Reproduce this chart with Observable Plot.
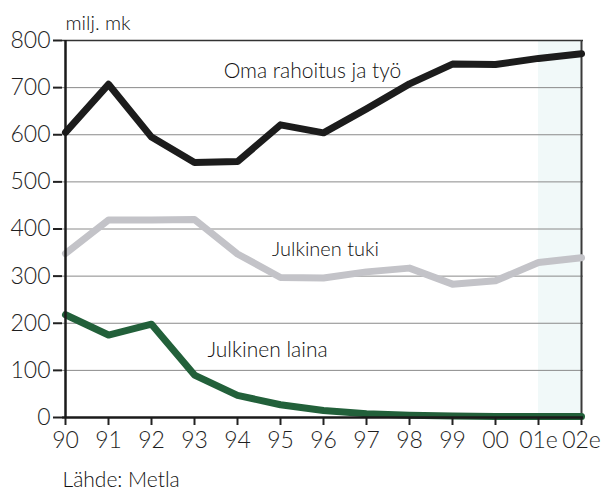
<!DOCTYPE html>
<html>
<head>
<meta charset="utf-8">
<script src="https://cdn.jsdelivr.net/npm/d3@7"></script>
<script src="https://cdn.jsdelivr.net/npm/@observablehq/plot@0.6"></script>
<style>
  html, body { margin: 0; padding: 0; background: #fff; }
  svg { display: block; }
</style>
</head>
<body>
<div id="chart"></div>
<script>
const years = ["90","91","92","93","94","95","96","97","98","99","00","01e","02e"];
const omaRahoitus = [605, 707, 595, 541, 543, 621, 604, 655, 708, 750, 749, 762, 772];
const julkinenTuki = [348, 419, 419, 420, 347, 297, 296, 309, 317, 283, 290, 329, 339];
const julkinenLaina = [218, 175, 198, 90, 47, 27, 15, 8, 5, 3, 2, 2, 2];
const yTicks = [0, 100, 200, 300, 400, 500, 600, 700, 800];
const gridTicks = [100, 200, 300, 400, 500, 600, 700];
const estimateSpan = [{x1: "01e", x2: "02e"}];

const series = [
  {name: "Oma rahoitus ja työ", values: omaRahoitus, color: "#1c1c1c"},
  {name: "Julkinen tuki", values: julkinenTuki, color: "#c3c3c8"},
  {name: "Julkinen laina", values: julkinenLaina, color: "#22603a"}
];
const rows = series.flatMap(s => s.values.map((v, i) => ({year: years[i], value: v, series: s.name})));
const colorOf = Object.fromEntries(series.map(s => [s.name, s.color]));

const font = "Lato, 'Open Sans', sans-serif";

const chart = Plot.plot({
  width: 603,
  height: 498,
  marginLeft: 62,
  marginRight: 20,
  marginTop: 40,
  marginBottom: 81,
  style: {fontFamily: font, fontWeight: 300, background: "#fff", color: "#333"},
  x: {type: "point", domain: years, padding: 0, label: null},
  y: {domain: [0, 800], label: null},
  marks: [
    Plot.rect(estimateSpan, {x1: "x1", x2: "x2", y1: 0, y2: 800, fill: "#f1f9f9"}),
    Plot.ruleY(gridTicks, {stroke: "#8a8a8a", strokeWidth: 1}),
    Plot.ruleY([800], {stroke: "#333", strokeWidth: 1.5}),
    Plot.ruleX(["02e"], {stroke: "#3a3a3a", strokeWidth: 2}),
    Plot.line(rows, {x: "year", y: "value", z: "series", stroke: d => colorOf[d.series], strokeWidth: 7}),
    Plot.axisY(yTicks, {tickSize: 9, tickPadding: 3, fontSize: 23, fontWeight: 300, strokeWidth: 2, stroke: "#222", fill: "#1e1e1e", label: null}),
    Plot.axisX(years, {tickSize: 8, tickPadding: 6, fontSize: 23, fontWeight: 300, strokeWidth: 2, stroke: "#222", fill: "#1e1e1e", label: null}),
    Plot.ruleX(["90"], {stroke: "#1a1a1a", strokeWidth: 2.5}),
    Plot.ruleY([0], {stroke: "#1a1a1a", strokeWidth: 2.5}),
    Plot.text(["Oma rahoitus ja työ"], {x: () => "95", y: () => 735, dx: 32, fontSize: 21, fontWeight: 300, fill: "#111"}),
    Plot.text(["Julkinen tuki"], {x: () => "96", y: () => 357, dx: 2, fontSize: 20, fontWeight: 300, fill: "#111"}),
    Plot.text(["Julkinen laina"], {x: () => "95", y: () => 142, dx: -13, fontSize: 21, fontWeight: 300, fill: "#111"}),
    Plot.text(["milj. mk"], {frameAnchor: "top-left", dx: 3, dy: -25, textAnchor: "start", fontSize: 20, fontWeight: 300, fill: "#111"}),
    Plot.text(["Lähde: Metla"], {frameAnchor: "bottom-left", dx: 0, dy: 69, textAnchor: "start", fontSize: 21, fontWeight: 300, fill: "#111"})
  ]
});
document.getElementById("chart").appendChild(chart);
</script>
</body>
</html>
